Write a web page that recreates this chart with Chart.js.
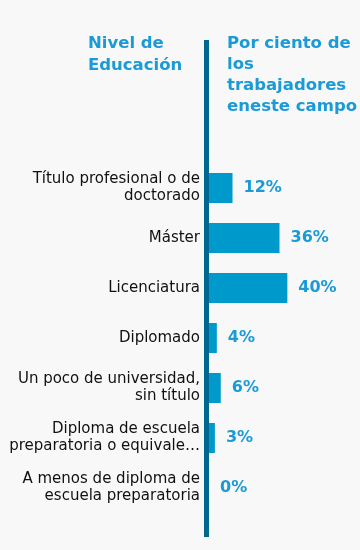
<!DOCTYPE html>
<html>
<head>
<meta charset="utf-8">
<script src="https://cdn.jsdelivr.net/npm/chart.js@4"></script>
<style>
  body { margin: 0; background: #f8f8f8; }
  #wrap { width: 360px; height: 550px; }
</style>
</head>
<body>
<div id="wrap"><canvas id="eduChart"></canvas></div>
<script>
// datos
const niveles = [
  ["Título profesional o de", "doctorado"],
  "Máster",
  "Licenciatura",
  "Diplomado",
  ["Un poco de universidad,", "sin título"],
  ["Diploma de escuela", "preparatoria o equivale…"],
  ["A menos de diploma de", "escuela preparatoria"]
];
const porcentajes = [12, 36, 40, 4, 6, 3, 0];
const tituloIzq = ["Nivel de", "Educación"];
const tituloDer = ["Por ciento de", "los", "trabajadores", "eneste campo"];

const AZUL = "#0099cc";
const AZUL_TEXTO = "#1a9ad6";
const AZUL_EJE = "#00678f";
const FUENTE = "Verdana, 'DejaVu Sans', sans-serif";

// eje vertical, títulos y etiquetas de valor
const extras = {
  id: "extras",
  afterDatasetsDraw(chart) {
    const ctx = chart.ctx;
    const x0 = chart.scales.x.getPixelForValue(0);
    ctx.save();
    ctx.fillStyle = AZUL_EJE;
    ctx.fillRect(x0 - 5, 40, 5, 497);

    ctx.fillStyle = AZUL_TEXTO;
    ctx.font = "bold 16.5px " + FUENTE;
    ctx.textAlign = "left";
    ctx.textBaseline = "alphabetic";
    tituloIzq.forEach((t, i) => ctx.fillText(t, 88, 48 + i * 21.5));
    tituloDer.forEach((t, i) => ctx.fillText(t, x0 + 18, 48 + i * 21));

    ctx.font = "bold 16px " + FUENTE;
    ctx.textBaseline = "middle";
    chart.getDatasetMeta(0).data.forEach((bar, i) => {
      ctx.fillText(porcentajes[i] + "%", bar.x + 11, bar.y);
    });
    ctx.restore();
  }
};

new Chart(document.getElementById("eduChart"), {
  type: "bar",
  data: {
    labels: niveles,
    datasets: [{
      data: porcentajes,
      backgroundColor: AZUL,
      barPercentage: 0.6,
      categoryPercentage: 1
    }]
  },
  options: {
    indexAxis: "y",
    responsive: true,
    maintainAspectRatio: false,
    animation: false,
    layout: { padding: { top: 163, bottom: 37, left: 0, right: 10 } },
    plugins: { legend: { display: false }, tooltip: { enabled: false } },
    scales: {
      x: { display: false, min: 0, max: 72 },
      y: {
        grid: { display: false, drawTicks: false },
        border: { display: false },
        ticks: {
          padding: 9,
          color: "#111111",
          font: { family: FUENTE, size: 15, lineHeight: 1.13 }
        },
        afterFit(scale) { scale.width = 209; }
      }
    }
  },
  plugins: [extras]
});
</script>
</body>
</html>
